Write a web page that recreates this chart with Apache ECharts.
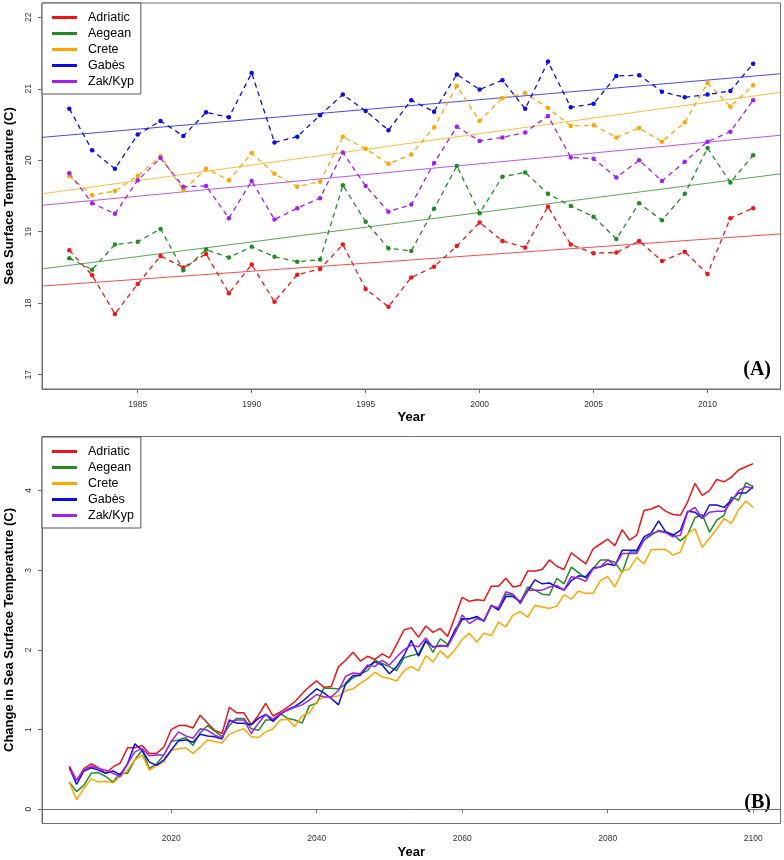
<!DOCTYPE html>
<html>
<head>
<meta charset="utf-8">
<script src="https://cdn.jsdelivr.net/npm/echarts@6.0.0/dist/echarts.min.js"></script>
<style>
  body { margin: 0; background: #fff; }
  #chart { width: 784px; height: 860px; }
</style>
</head>
<body>
<div id="chart"></div>
<script type="text/javascript">
// ---- panel A: observed SST, 1982-2012 ----
var yearsA = [1982, 1983, 1984, 1985, 1986, 1987, 1988, 1989, 1990, 1991, 1992, 1993, 1994, 1995, 1996,
              1997, 1998, 1999, 2000, 2001, 2002, 2003, 2004, 2005, 2006, 2007, 2008, 2009, 2010, 2011, 2012];
var adriaticA = [18.74, 18.39, 17.85, 18.27, 18.66, 18.50, 18.69, 18.14, 18.54, 18.02, 18.40, 18.48, 18.82, 18.20, 17.95,
                 18.36, 18.51, 18.80, 19.13, 18.87, 18.78, 19.35, 18.82, 18.70, 18.71, 18.87, 18.59, 18.72, 18.41, 19.19, 19.33];
var aegeanA = [18.63, 18.47, 18.82, 18.86, 19.04, 18.46, 18.75, 18.64, 18.79, 18.65, 18.58, 18.61, 19.65, 19.14, 18.77,
               18.73, 19.32, 19.92, 19.26, 19.77, 19.83, 19.53, 19.36, 19.21, 18.90, 19.40, 19.16, 19.53, 20.17, 19.69, 20.07];
var creteA = [19.78, 19.51, 19.57, 19.78, 20.06, 19.58, 19.88, 19.72, 20.10, 19.81, 19.63, 19.70, 20.33, 20.16, 19.95,
              20.08, 20.46, 21.04, 20.55, 20.87, 20.94, 20.73, 20.48, 20.49, 20.32, 20.45, 20.26, 20.53, 21.08, 20.75, 21.05];
var gabesA = [20.72, 20.14, 19.88, 20.36, 20.55, 20.34, 20.67, 20.60, 21.22, 20.25, 20.33, 20.63, 20.92, 20.69, 20.42,
              20.84, 20.68, 21.20, 20.99, 21.12, 20.72, 21.38, 20.74, 20.79, 21.18, 21.19, 20.96, 20.88, 20.92, 20.97, 21.35];
var zakA = [19.82, 19.40, 19.25, 19.72, 20.03, 19.63, 19.64, 19.19, 19.71, 19.17, 19.33, 19.47, 20.11, 19.64, 19.28,
            19.38, 19.96, 20.47, 20.27, 20.32, 20.39, 20.62, 20.04, 20.02, 19.76, 20.00, 19.71, 19.98, 20.26, 20.40, 20.84];
// trend line values at the left and right edge of panel A
var trendX = [1980.8, 2013.2];
var adriaticTrend = [18.24, 18.97];
var aegeanTrend = [18.48, 19.81];
var creteTrend = [19.53, 20.95];
var gabesTrend = [20.32, 21.21];
var zakTrend = [19.37, 20.35];
var xTicksA = [1985, 1990, 1995, 2000, 2005, 2010];
var yTicksA = [17, 18, 19, 20, 21, 22];

// ---- panel B: projected change, 2006-2100 ----
var adriaticB = [0.54, 0.36, 0.51, 0.57, 0.52, 0.45, 0.53, 0.58, 0.77, 0.77, 0.80, 0.70, 0.70, 0.78, 1.00, 1.05, 1.05, 1.02,
                 1.18, 1.08, 0.99, 0.95, 1.28, 1.21, 1.21, 1.06, 1.18, 1.33, 1.17, 1.22, 1.28, 1.35, 1.45, 1.54, 1.61, 1.53, 1.54, 1.79, 1.87, 1.97, 1.86, 1.92, 1.88, 1.95,
                 1.90, 2.07, 2.25, 2.28, 2.16, 2.30, 2.22, 2.27, 2.17, 2.41, 2.66, 2.61, 2.63, 2.62, 2.80, 2.80, 2.90, 2.79, 2.81, 2.99, 2.99, 3.01, 3.13, 3.05, 3.01, 3.22,
                 3.15, 3.08, 3.27, 3.33, 3.39, 3.31, 3.51, 3.38, 3.44, 3.75, 3.77, 3.81, 3.74, 3.70, 3.69, 3.86, 4.09, 3.94, 4.00, 4.14, 4.11, 4.17, 4.26, 4.30, 4.34];
var aegeanB = [0.34, 0.22, 0.30, 0.45, 0.46, 0.41, 0.34, 0.45, 0.45, 0.62, 0.74, 0.51, 0.57, 0.68, 0.85, 0.87, 0.90, 0.80,
               0.96, 1.05, 0.98, 0.91, 1.05, 1.14, 1.14, 1.01, 0.99, 1.12, 1.12, 1.20, 1.14, 1.12, 1.08, 1.30, 1.33, 1.52, 1.52, 1.51, 1.57, 1.65, 1.70, 1.74, 1.87, 1.83,
               1.79, 1.74, 1.90, 1.93, 1.95, 2.12, 1.97, 2.14, 2.07, 2.21, 2.38, 2.39, 2.41, 2.36, 2.56, 2.52, 2.70, 2.69, 2.60, 2.79, 2.75, 2.70, 2.69, 2.90, 2.83, 3.04,
               2.97, 2.90, 3.02, 3.13, 3.13, 3.10, 2.97, 3.23, 3.23, 3.38, 3.44, 3.50, 3.48, 3.45, 3.37, 3.45, 3.66, 3.70, 3.48, 3.63, 3.69, 3.92, 3.88, 4.10, 4.05];
var creteB = [0.34, 0.12, 0.26, 0.38, 0.34, 0.35, 0.33, 0.41, 0.49, 0.62, 0.68, 0.49, 0.55, 0.59, 0.74, 0.76, 0.77, 0.70,
              0.78, 0.87, 0.85, 0.83, 0.94, 0.98, 1.01, 0.91, 0.90, 0.97, 1.01, 1.12, 1.13, 1.04, 1.17, 1.21, 1.35, 1.41, 1.41, 1.42, 1.49, 1.51, 1.58, 1.64, 1.72, 1.66,
              1.64, 1.61, 1.74, 1.79, 1.74, 1.93, 1.85, 1.99, 1.90, 2.00, 2.13, 2.21, 2.10, 2.21, 2.18, 2.35, 2.29, 2.44, 2.48, 2.41, 2.56, 2.54, 2.52, 2.55, 2.69, 2.64,
              2.74, 2.71, 2.71, 2.87, 2.92, 2.79, 2.99, 3.02, 3.16, 3.08, 3.26, 3.26, 3.26, 3.19, 3.23, 3.46, 3.52, 3.29, 3.40, 3.52, 3.65, 3.59, 3.76, 3.87, 3.79];
var gabesB = [0.52, 0.31, 0.48, 0.52, 0.49, 0.45, 0.48, 0.43, 0.57, 0.82, 0.74, 0.59, 0.55, 0.62, 0.74, 0.86, 0.87, 0.84,
              0.94, 0.92, 0.91, 0.88, 1.12, 1.08, 1.08, 1.06, 1.14, 1.19, 1.10, 1.19, 1.25, 1.29, 1.35, 1.43, 1.51, 1.46, 1.39, 1.31, 1.58, 1.68, 1.68, 1.79, 1.85, 1.81,
              1.70, 1.79, 1.93, 2.12, 1.92, 2.11, 2.04, 2.05, 2.05, 2.25, 2.39, 2.39, 2.42, 2.36, 2.56, 2.50, 2.67, 2.67, 2.60, 2.74, 2.88, 2.83, 2.84, 2.79, 2.75, 2.87,
              2.93, 2.92, 3.03, 3.04, 3.08, 3.06, 3.25, 3.25, 3.25, 3.42, 3.47, 3.62, 3.48, 3.44, 3.50, 3.74, 3.73, 3.65, 3.82, 3.82, 3.79, 3.88, 3.97, 3.97, 4.05];
var zakB = [0.51, 0.36, 0.49, 0.54, 0.51, 0.49, 0.45, 0.41, 0.57, 0.72, 0.76, 0.67, 0.68, 0.68, 0.85, 0.97, 0.92, 0.89,
            1.01, 0.99, 0.93, 0.89, 1.10, 1.12, 1.12, 0.95, 1.08, 1.19, 1.13, 1.20, 1.24, 1.28, 1.31, 1.37, 1.44, 1.41, 1.41, 1.49, 1.67, 1.71, 1.70, 1.81, 1.79, 1.87,
            1.81, 1.91, 2.00, 2.06, 2.04, 2.15, 2.03, 2.06, 2.04, 2.21, 2.44, 2.33, 2.39, 2.37, 2.55, 2.53, 2.73, 2.70, 2.58, 2.75, 2.75, 2.75, 2.79, 2.81, 2.75, 2.92,
            2.90, 2.86, 3.02, 3.04, 3.13, 3.06, 3.21, 3.21, 3.21, 3.38, 3.46, 3.49, 3.47, 3.42, 3.44, 3.73, 3.79, 3.65, 3.73, 3.74, 3.74, 3.86, 4.00, 4.05, 4.03];
var xTicksB = [2020, 2040, 2060, 2080, 2100];
var yTicksB = [0, 1, 2, 3, 4];

var names = ['Adriatic', 'Aegean', 'Crete', 'Gabès', 'Zak/Kyp'];
var colors = ['#f01414', '#228b22', '#ffa500', '#0c0ce8', '#a020f0'];

var yearsB = [];
for (var y = 2006; y <= 2100; y++) yearsB.push(y);

var dataA = [adriaticA, aegeanA, creteA, gabesA, zakA];
var trends = [adriaticTrend, aegeanTrend, creteTrend, gabesTrend, zakTrend];
var dataB = [adriaticB, aegeanB, creteB, gabesB, zakB];

var FONT = '"Liberation Sans", Arial, sans-serif';
var BOX = '#707070';

var pairs = function(xs, ys) {
    var out = [];
    for (var i = 0; i < ys.length; i++) out.push([xs[i], ys[i]]);
    return out;
};

var series = [];
for (var i = 0; i < names.length; i++) {
    series.push({
        name: names[i] + ' trend',
        type: 'line',
        xAxisIndex: 0, yAxisIndex: 0,
        data: pairs(trendX, trends[i]),
        symbol: 'none',
        silent: true,
        lineStyle: { color: colors[i], width: 1, opacity: 0.75 },
        itemStyle: { color: colors[i] },
        z: 1
    });
}
for (var i = 0; i < names.length; i++) {
    series.push({
        name: names[i],
        type: 'line',
        xAxisIndex: 0, yAxisIndex: 0,
        data: pairs(yearsA, dataA[i]),
        symbol: 'circle',
        symbolSize: 4.5,
        lineStyle: { color: colors[i], width: 1.3, type: [5, 4] },
        itemStyle: { color: colors[i] },
        z: 2
    });
}
for (var i = 0; i < names.length; i++) {
    series.push({
        name: names[i],
        type: 'line',
        xAxisIndex: 1, yAxisIndex: 1,
        data: pairs(yearsB, dataB[i]),
        symbol: 'none',
        lineStyle: { color: colors[i], width: 1.5 },
        itemStyle: { color: colors[i] },
        z: 2
    });
}

var plain = function(v) { return String(v); };

var xAxisCfg = function(grid, min, max, ticks) {
    return {
        type: 'value', gridIndex: grid, min: min, max: max,
        name: 'Year', nameLocation: 'middle', nameGap: 22,
        nameTextStyle: { fontFamily: FONT, fontSize: 13, fontWeight: 'bold', color: '#000' },
        axisLine: { show: true, lineStyle: { color: BOX, width: 1 } },
        axisTick: { show: true, length: 4, customValues: ticks, lineStyle: { color: BOX } },
        axisLabel: { customValues: ticks, formatter: plain, fontFamily: FONT, fontSize: 8.5, color: '#333', margin: 11 },
        splitLine: { show: false }
    };
};
var yAxisCfg = function(grid, min, max, ticks, title) {
    return {
        type: 'value', gridIndex: grid, min: min, max: max,
        name: title, nameLocation: 'middle', nameGap: 26.5, nameRotate: 90,
        nameTextStyle: { fontFamily: FONT, fontSize: 13, fontWeight: 'bold', color: '#000' },
        axisLine: { show: true, lineStyle: { color: BOX, width: 1 } },
        axisTick: { show: true, length: 4, customValues: ticks, lineStyle: { color: BOX } },
        axisLabel: { customValues: ticks, formatter: plain, rotate: 90, fontFamily: FONT, fontSize: 8.5, color: '#333', margin: 9 },
        splitLine: { show: false }
    };
};
var legendCfg = function(top) {
    return {
        data: names, orient: 'vertical', left: 42, top: top,
        icon: 'rect', itemWidth: 25, itemHeight: 3, itemGap: 3,
        padding: [8, 7, 6, 10],
        borderColor: '#555', borderWidth: 1, backgroundColor: '#fff',
        selectedMode: false,
        textStyle: { fontFamily: FONT, fontSize: 12.5, color: '#000', padding: [0, 0, 0, 6] }
    };
};

var chart = echarts.init(document.getElementById('chart'));
chart.setOption({
    animation: false,
    backgroundColor: '#fff',
    grid: [
        { left: 42, right: 3.5, top: 3, height: 386, outerBoundsMode: 'none', containLabel: false, show: true, borderColor: BOX, borderWidth: 1 },
        { left: 42, right: 3.5, top: 436.5, height: 387, outerBoundsMode: 'none', containLabel: false, show: true, borderColor: BOX, borderWidth: 1 }
    ],
    xAxis: [
        xAxisCfg(0, 1980.8, 2013.2, xTicksA),
        xAxisCfg(1, 2002.24, 2103.76, xTicksB)
    ],
    yAxis: [
        yAxisCfg(0, 16.8, 22.2, yTicksA, 'Sea Surface Temperature (C)'),
        yAxisCfg(1, -0.18, 4.68, yTicksB, 'Change in Sea Surface Temperature (C)')
    ],
    legend: [legendCfg(3), legendCfg(437)],
    graphic: [
        { type: 'text', x: 771, y: 370, style: { text: '(A)', font: 'bold 20px "Liberation Serif", "Times New Roman", serif', fill: '#000', align: 'right', verticalAlign: 'middle' } },
        { type: 'text', x: 771, y: 803, style: { text: '(B)', font: 'bold 20px "Liberation Serif", "Times New Roman", serif', fill: '#000', align: 'right', verticalAlign: 'middle' } }
    ],
    series: series
});
</script>
</body>
</html>
